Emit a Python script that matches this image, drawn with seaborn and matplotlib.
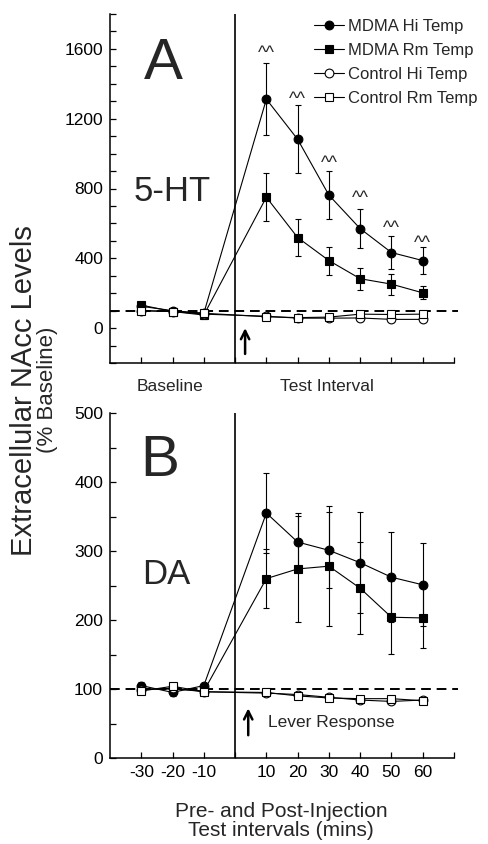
import matplotlib
matplotlib.use("Agg")
import matplotlib.pyplot as plt
from matplotlib.lines import Line2D
from matplotlib.ticker import MultipleLocator, FixedLocator
import seaborn as sns
import numpy as np

sns.set_style("ticks")
plt.rcParams["font.family"] = ["Liberation Sans", "DejaVu Sans"]

# ---------------- data ----------------
times = [-30, -20, -10, 10, 20, 30, 40, 50, 60]
series_names = ["MDMA Hi Temp", "MDMA Rm Temp", "Control Hi Temp", "Control Rm Temp"]

# Panel A: 5-HT (% baseline)
a_mdma_hi = [125, 100, 85, 1312, 1082, 762, 570, 433, 387]
a_mdma_hi_err = [15, 10, 15, 205, 195, 138, 113, 95, 75]
a_mdma_rm = [132, 95, 75, 750, 519, 387, 283, 252, 202]
a_mdma_rm_err = [15, 10, 20, 138, 105, 80, 63, 60, 38]
a_ctrl_hi = [100, 95, 80, 68, 57, 57, 58, 50, 50]
a_ctrl_rm = [100, 95, 85, 65, 60, 63, 80, 78, 80]
a_sig_x = [10, 20, 30, 40, 50, 60]
a_sig_y = [1572, 1308, 945, 740, 568, 486]

# Panel B: DA (% baseline)
b_mdma_hi = [105, 95, 105, 355, 313, 301, 283, 262, 251]
b_mdma_hi_err = [5, 5, 4, 58, 42, 55, 73, 65, 60]
b_mdma_rm = [100, 100, 97, 260, 274, 278, 246, 204, 203]
b_mdma_rm_err = [5, 5, 4, 43, 77, 87, 67, 53, 43]
b_ctrl_hi = [99, 101, 96, 94, 92, 88, 84, 82, 84]
b_ctrl_rm = [97, 104, 96, 95, 90, 87, 86, 86, 83]

xtick_vals = [-30, -20, -10, 0, 10, 20, 30, 40, 50, 60, 70]
xtick_labels = ["-30", "-20", "-10", "", "10", "20", "30", "40", "50", "60", ""]

# ---------------- figure ----------------
W, H = 489, 844
fig = plt.figure(figsize=(W / 100, H / 100), dpi=100)
axA = fig.add_axes([110 / W, 1 - 363 / H, 344 / W, 349 / H])
axB = fig.add_axes([110 / W, 1 - 758 / H, 344 / W, 345 / H])

styles = {
    "MDMA Hi Temp": dict(marker="o", mfc="black", ms=6.3),
    "MDMA Rm Temp": dict(marker="s", mfc="black", ms=6.0),
    "Control Hi Temp": dict(marker="o", mfc="white", ms=6.3),
    "Control Rm Temp": dict(marker="s", mfc="white", ms=6.2),
}


def draw_panel(ax, vals, errs):
    for name in series_names:
        st = styles[name]
        y = vals[name]
        if name in errs:
            ax.errorbar(times, y, yerr=errs[name], fmt="none", ecolor="black",
                        elinewidth=0.8, capsize=2.2, capthick=0.8, zorder=2)
        sns.lineplot(x=times, y=y, ax=ax, color="black", lw=0.8,
                     marker=st["marker"], markersize=st["ms"],
                     markerfacecolor=st["mfc"], markeredgecolor="black",
                     markeredgewidth=0.8, errorbar=None, sort=False, zorder=3)
    ax.axhline(100, xmin=0, xmax=1.012, color="black", lw=1.4, ls=(0, (5, 3)),
               zorder=1, clip_on=False)
    ax.axvline(0, color="black", lw=1.2, zorder=1)
    ax.set_xlim(-40, 70)
    sns.despine(ax=ax)
    for sp in ("left", "bottom"):
        ax.spines[sp].set_linewidth(1.1)
        ax.spines[sp].set_color("black")
    ax.xaxis.set_major_locator(FixedLocator(xtick_vals))
    ax.tick_params(axis="both", which="both", direction="in", length=4,
                   width=0.9, colors="black", labelsize=12.5, pad=5)
    ax.set_xlabel("")
    ax.set_ylabel("")


draw_panel(axA,
           {"MDMA Hi Temp": a_mdma_hi, "MDMA Rm Temp": a_mdma_rm,
            "Control Hi Temp": a_ctrl_hi, "Control Rm Temp": a_ctrl_rm},
           {"MDMA Hi Temp": a_mdma_hi_err, "MDMA Rm Temp": a_mdma_rm_err})
draw_panel(axB,
           {"MDMA Hi Temp": b_mdma_hi, "MDMA Rm Temp": b_mdma_rm,
            "Control Hi Temp": b_ctrl_hi, "Control Rm Temp": b_ctrl_rm},
           {"MDMA Hi Temp": b_mdma_hi_err, "MDMA Rm Temp": b_mdma_rm_err})

# Panel A axes
axA.set_ylim(-200, 1800)
axA.yaxis.set_major_locator(FixedLocator([0, 400, 800, 1200, 1600]))
axA.yaxis.set_minor_locator(MultipleLocator(100))
axA.set_xticklabels([""] * len(xtick_vals))
for xs, ys in zip(a_sig_x, a_sig_y):
    axA.text(xs, ys, "^^", ha="center", va="center", fontsize=13)
axA.text(-23, 1515, "A", ha="center", va="center", fontsize=42)
axA.text(-20, 780, "5-HT", ha="center", va="center", fontsize=25)
axA.annotate("", xy=(3.2, 0), xytext=(3.2, -148),
             arrowprops=dict(arrowstyle="->,head_length=0.6,head_width=0.3",
                             lw=1.8, color="black", shrinkA=0, shrinkB=0))

# Panel B axes
axB.set_ylim(0, 500)
axB.yaxis.set_major_locator(MultipleLocator(100))
axB.yaxis.set_minor_locator(MultipleLocator(50))
axB.set_xticklabels(xtick_labels)
axB.text(-24, 430, "B", ha="center", va="center", fontsize=42)
axB.text(-22, 266, "DA", ha="center", va="center", fontsize=25)
axB.annotate("", xy=(4.2, 72), xytext=(4.2, 33),
             arrowprops=dict(arrowstyle="->,head_length=0.6,head_width=0.3",
                             lw=1.8, color="black", shrinkA=0, shrinkB=0))
axB.text(10.5, 51, "Lever Response", ha="left", va="center", fontsize=12.5)

# Legend
handles = [Line2D([0], [0], color="black", lw=0.8, marker=styles[n]["marker"],
                  markersize=styles[n]["ms"], markerfacecolor=styles[n]["mfc"],
                  markeredgecolor="black", markeredgewidth=0.8)
           for n in series_names]
fig.legend(handles, series_names, loc="upper left",
           bbox_to_anchor=(314 / W, 1 - 19 / H), bbox_transform=fig.transFigure,
           frameon=False, fontsize=12, handlelength=1.8, handletextpad=0.25,
           labelspacing=0.53, borderpad=0, borderaxespad=0)

# Figure texts
fig.text(170 / W, 1 - 387 / H, "Baseline", ha="center", va="center", fontsize=12.5)
fig.text(327 / W, 1 - 387 / H, "Test Interval", ha="center", va="center", fontsize=12.5)
fig.text(24 / W, 1 - 391 / H, "Extracellular NAcc Levels", rotation=90,
         ha="center", va="center", fontsize=21)
fig.text(48 / W, 1 - 390 / H, "(% Baseline)", rotation=90,
         ha="center", va="center", fontsize=16)
fig.text(281 / W, 1 - 821 / H, "Pre- and Post-Injection\nTest intervals (mins)",
         ha="center", va="center", fontsize=15, linespacing=1.0)

fig.savefig("out.png", dpi=100)
